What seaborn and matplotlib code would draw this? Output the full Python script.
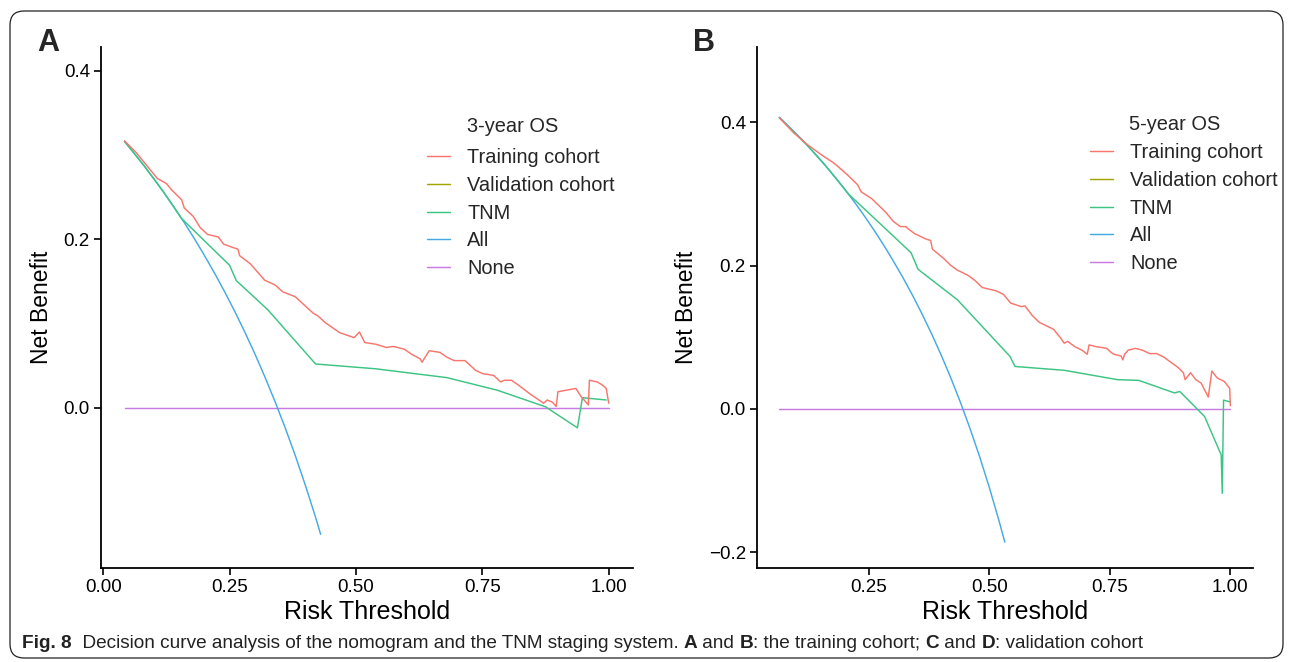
import numpy as np
import pandas as pd
import matplotlib
matplotlib.use("Agg")
import matplotlib.pyplot as plt
import matplotlib.font_manager as fm
import seaborn as sns
from matplotlib.lines import Line2D
from matplotlib.patches import FancyBboxPatch
from matplotlib.transforms import IdentityTransform

sns.set_theme(style="ticks")
plt.rcParams['font.family'] = ['Liberation Sans', 'DejaVu Sans']

series_names = ["Training cohort", "Validation cohort", "TNM", "All", "None"]
series_colors = ["#F8766D", "#A3A500", "#3CC483", "#45AAE3", "#C97BE3"]

# ---------------- Panel A (3-year OS) ----------------
a_train_x = [0.042, 0.0646, 0.0859, 0.1071, 0.1248, 0.1354, 0.1552, 0.1602, 0.1778, 0.1920,
             0.2061, 0.2274, 0.2380, 0.2557, 0.2663, 0.2698, 0.2910, 0.3052, 0.3193, 0.3406,
             0.3547, 0.3795, 0.3972, 0.4149, 0.4255, 0.4396, 0.4679, 0.4962, 0.5068, 0.5174,
             0.5387, 0.5599, 0.5740, 0.5953, 0.6094, 0.6271, 0.6306, 0.6448, 0.6660, 0.6802,
             0.6943, 0.7155, 0.7368, 0.7509, 0.7721, 0.7863, 0.7934, 0.8075, 0.8217, 0.8429,
             0.8712, 0.8783, 0.8889, 0.8960, 0.8995, 0.9349, 0.9455, 0.9596, 0.9618, 0.9773,
             0.9880, 0.9950, 1.0]
a_train_y = [0.3167, 0.3031, 0.2875, 0.2720, 0.2661, 0.2584, 0.2467, 0.2370, 0.2272, 0.2136,
             0.2058, 0.2027, 0.1942, 0.1903, 0.1883, 0.1805, 0.1708, 0.1611, 0.1514, 0.1455,
             0.1377, 0.1319, 0.1222, 0.1125, 0.1086, 0.1008, 0.0891, 0.0833, 0.0899, 0.0774,
             0.0755, 0.0716, 0.0728, 0.0696, 0.0638, 0.0580, 0.0541, 0.0677, 0.0658, 0.0599,
             0.0560, 0.0560, 0.0444, 0.0405, 0.0385, 0.0307, 0.0327, 0.0327, 0.0268, 0.0171,
             0.0054, 0.0093, 0.0066, 0.0016, 0.0191, 0.0230, 0.0132, 0.0035, 0.0327, 0.0307,
             0.0268, 0.0230, 0.0054]
a_tnm_x = [0.042, 0.08, 0.12, 0.155, 0.250, 0.263, 0.326, 0.420, 0.539, 0.680, 0.779, 0.875,
           0.938, 0.948, 0.995]
a_tnm_y = [0.316, 0.2877, 0.2553, 0.2245, 0.169, 0.151, 0.116, 0.052, 0.0463, 0.0358, 0.021,
           0.0012, -0.0237, 0.012, 0.0093]
a_all_x = [0.042, 0.06, 0.08, 0.10, 0.12, 0.14, 0.16, 0.18, 0.20, 0.22, 0.24, 0.26, 0.28,
           0.30, 0.32, 0.34, 0.36, 0.38, 0.40, 0.42, 0.43]
a_all_y = [0.316, 0.3029, 0.2877, 0.2719, 0.2553, 0.2380, 0.2199, 0.2009, 0.1809, 0.1599,
           0.1378, 0.1145, 0.0899, 0.0639, 0.0363, 0.0071, -0.0239, -0.0569, -0.0922,
           -0.1298, -0.150]
a_none_x = [0.042, 1.0]
a_none_y = [0.0, 0.0]

# ---------------- Panel B (5-year OS) ----------------
b_train_x = [0.0640, 0.0936, 0.1231, 0.1527, 0.1748, 0.1822, 0.2044, 0.2266, 0.2339, 0.2561,
             0.2709, 0.2857, 0.3004, 0.3152, 0.3263, 0.3300, 0.3447, 0.3669, 0.3780, 0.3817,
             0.4039, 0.4186, 0.4334, 0.4556, 0.4703, 0.4851, 0.4999, 0.5147, 0.5294, 0.5442,
             0.5664, 0.5738, 0.5886, 0.6033, 0.6255, 0.6329, 0.6477, 0.6551, 0.6624, 0.6772,
             0.6920, 0.7031, 0.7068, 0.7215, 0.7437, 0.7511, 0.7585, 0.7732, 0.7769, 0.7806,
             0.7880, 0.8028, 0.8176, 0.8324, 0.8471, 0.8619, 0.8767, 0.8915, 0.9025, 0.9062,
             0.9173, 0.9284, 0.9394, 0.9542, 0.9616, 0.9727, 0.9875, 0.9986, 1.0]
b_train_y = [0.4063, 0.3854, 0.3684, 0.3539, 0.3442, 0.3403, 0.3272, 0.3126, 0.3029, 0.2932,
             0.2835, 0.2738, 0.2617, 0.2544, 0.2544, 0.2519, 0.2447, 0.2374, 0.2350, 0.2228,
             0.2107, 0.2010, 0.1937, 0.1864, 0.1791, 0.1694, 0.1670, 0.1646, 0.1597, 0.1476,
             0.1427, 0.1437, 0.1306, 0.1209, 0.1136, 0.1112, 0.0990, 0.0917, 0.0942, 0.0869,
             0.0820, 0.0762, 0.0893, 0.0869, 0.0845, 0.0796, 0.0762, 0.0738, 0.0684, 0.0762,
             0.0820, 0.0845, 0.0820, 0.0772, 0.0772, 0.0723, 0.0650, 0.0578, 0.0505, 0.0408,
             0.0505, 0.0408, 0.0359, 0.0165, 0.0529, 0.0432, 0.0383, 0.0286, 0.0044]
b_tnm_x = [0.064, 0.12, 0.16, 0.2081, 0.3373, 0.3521, 0.4334, 0.5427, 0.5531, 0.6551, 0.7659,
           0.8102, 0.8841, 0.8951, 0.928, 0.9466, 0.981, 0.9832, 0.9859, 1.0]
b_tnm_y = [0.4063, 0.3693, 0.3393, 0.2995, 0.2180, 0.1947, 0.1524, 0.0733, 0.0592, 0.0539,
           0.0408, 0.0398, 0.0223, 0.0243, 0.002, -0.0107, -0.0642, -0.1178, 0.0122, 0.0097]
b_all_x = [0.064, 0.08, 0.10, 0.12, 0.14, 0.16, 0.18, 0.20, 0.22, 0.24, 0.26, 0.28, 0.30,
           0.32, 0.34, 0.36, 0.38, 0.40, 0.42, 0.44, 0.46, 0.48, 0.50, 0.52, 0.532]
b_all_y = [0.407, 0.3967, 0.3833, 0.3693, 0.3547, 0.3393, 0.3232, 0.3063, 0.2885, 0.2697,
           0.2500, 0.2292, 0.2071, 0.1838, 0.1591, 0.1328, 0.1048, 0.0750, 0.0431, 0.0089,
           -0.0278, -0.0673, -0.1100, -0.1563, -0.186]
b_none_x = [0.064, 1.0]
b_none_y = [0.0, 0.0]


def build_df(train, tnm, allx, none):
    parts = []
    for name, (xs, ys) in zip(["Training cohort", "TNM", "All", "None"], [train, tnm, allx, none]):
        parts.append(pd.DataFrame({"threshold": xs, "net_benefit": ys, "model": name}))
    return pd.concat(parts, ignore_index=True)


df_a = build_df((a_train_x, a_train_y), (a_tnm_x, a_tnm_y), (a_all_x, a_all_y), (a_none_x, a_none_y))
df_b = build_df((b_train_x, b_train_y), (b_tnm_x, b_tnm_y), (b_all_x, b_all_y), (b_none_x, b_none_y))

palette = dict(zip(series_names, series_colors))

W, H = 1290, 662
fig = plt.figure(figsize=(W / 100, H / 100), dpi=100)
fig.patch.set_facecolor("white")


def px_axes(l, r, t, b):
    return fig.add_axes([l / W, 1 - b / H, (r - l) / W, (b - t) / H])


ax_a = px_axes(101, 633, 47, 568)
ax_b = px_axes(757, 1253, 47, 568)

lw = 1.05
for ax, df in [(ax_a, df_a), (ax_b, df_b)]:
    sns.lineplot(data=df, x="threshold", y="net_benefit", hue="model",
                 hue_order=["None", "All", "TNM", "Training cohort"], palette=palette,
                 estimator=None, sort=False, legend=False, linewidth=lw, ax=ax)
    ax.set_facecolor("white")
    sns.despine(ax=ax)
    for s in ["left", "bottom"]:
        ax.spines[s].set_color("black")
        ax.spines[s].set_linewidth(1.3)
    ax.tick_params(axis="both", colors="black", labelcolor="black", length=5, width=1.2,
                   labelsize=13.5, direction="out", pad=3)
    ax.set_xlabel("Risk Threshold", fontsize=18, color="black", labelpad=3)
    ax.set_ylabel("Net Benefit", fontsize=16.5, color="black", labelpad=8)
    ax.grid(False)

ax_a.set_xlim(-0.0045, 1.048)
ax_a.set_ylim(-0.190, 0.428)
ax_a.set_xticks([0.0, 0.25, 0.5, 0.75, 1.0])
ax_a.set_xticklabels(["0.00", "0.25", "0.50", "0.75", "1.00"])
ax_a.set_yticks([0.0, 0.2, 0.4])
ax_a.set_yticklabels(["0.0", "0.2", "0.4"])

ax_b.set_xlim(0.0177, 1.047)
ax_b.set_ylim(-0.222, 0.505)
ax_b.set_xticks([0.25, 0.5, 0.75, 1.0])
ax_b.set_xticklabels(["0.25", "0.50", "0.75", "1.00"])
ax_b.set_yticks([-0.2, 0.0, 0.2, 0.4])
ax_b.set_yticklabels(["\u22120.2", "0.0", "0.2", "0.4"])

# legends
leg_fs = 14.4
handles = [Line2D([], [], color=c, lw=lw) for c in series_colors]
for ax, key_left, top_y, title, title_x, title_y in [
        (ax_a, 427, 148, "3-year OS", 467, 127),
        (ax_b, 1090, 143, "5-year OS", 1129, 124)]:
    ax.legend(handles, series_names, loc="upper left",
              bbox_to_anchor=(key_left / W, 1 - top_y / H), bbox_transform=fig.transFigure,
              frameon=False, borderpad=0, borderaxespad=0, handlelength=1.15,
              handletextpad=0.85, labelspacing=0.44, fontsize=leg_fs)
    fig.text(title_x / W, 1 - title_y / H, title, fontsize=leg_fs, va="center", ha="left")

# panel letters
fig.text(37 / W, 1 - 43 / H, "A", fontsize=22, fontweight="bold", va="center", ha="left")
fig.text(693 / W, 1 - 43 / H, "B", fontsize=22, fontweight="bold", va="center", ha="left")

# rounded border
border = FancyBboxPatch((10, 4), 1273, 647, boxstyle="round,pad=0,rounding_size=14",
                        transform=IdentityTransform(), facecolor="none",
                        edgecolor="#222222", linewidth=0.9)
fig.patches.append(border)

# caption
names = {f.name for f in fm.fontManager.ttflist}
cap_family = "Liberation Sans Narrow" if "Liberation Sans Narrow" in names else "Liberation Sans"
pieces = [("Fig. 8", "bold"), ("  Decision curve analysis of the nomogram and the TNM staging system. ", "normal"),
          ("A", "bold"), (" and ", "normal"), ("B", "bold"), (": the training cohort; ", "normal"),
          ("C", "bold"), (" and ", "normal"), ("D", "bold"), (": validation cohort", "normal")]
renderer = fig.canvas.get_renderer()
target_w = 1140.0
size = 10.5
tmp = []
x = 22.0
for txt, wt in pieces:
    t = fig.text(x / W, 1 - 643 / H, txt, fontsize=size, fontweight=wt, family=cap_family,
                 va="center", ha="left", color="#222222")
    tmp.append(t)
    x = t.get_window_extent(renderer).x1
scale = target_w / (x - 22.0)
for t in tmp:
    t.remove()
size *= scale
x = 22.0
for txt, wt in pieces:
    t = fig.text(x / W, 1 - 643 / H, txt, fontsize=size, fontweight=wt, family=cap_family,
                 va="center", ha="left", color="#222222")
    x = t.get_window_extent(renderer).x1

fig.savefig("out.png", dpi=100)
